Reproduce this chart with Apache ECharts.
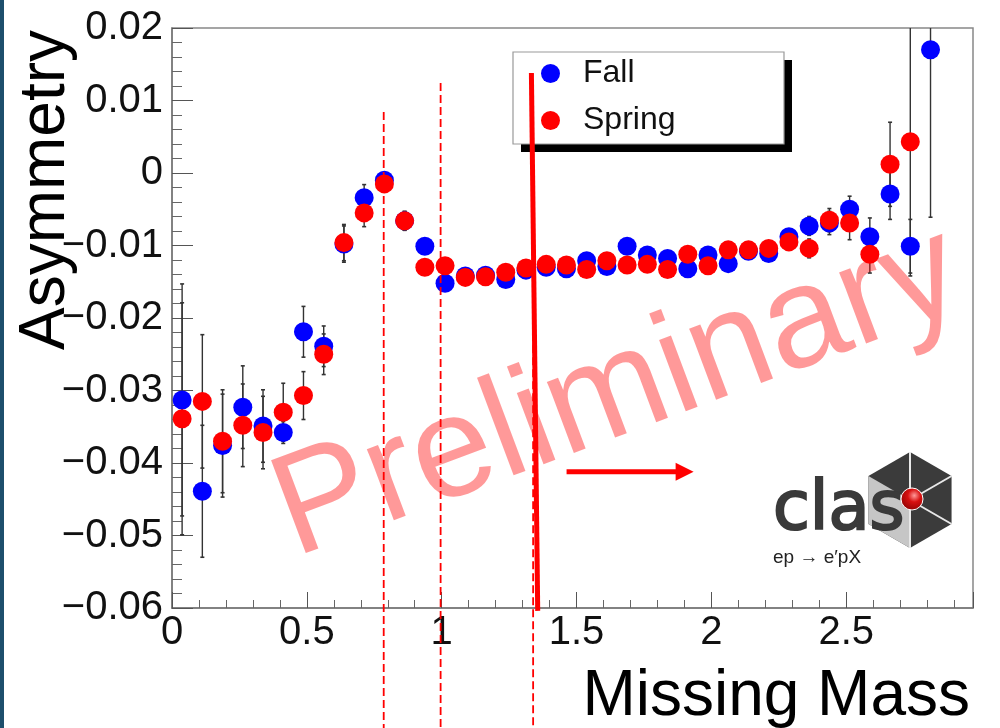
<!DOCTYPE html>
<html><head><meta charset="utf-8">
<script src="https://cdn.jsdelivr.net/npm/echarts@6/dist/echarts.min.js"></script>
<style>html,body{margin:0;padding:0;background:#fff}#c{width:1000px;height:728px}</style>
</head><body><div id="c"></div>
<script>
// ---- data ----
const massBins = [0.0375, 0.1125, 0.1875, 0.2625, 0.3375, 0.4125, 0.4875, 0.5625, 0.6375, 0.7125,
  0.7875, 0.8625, 0.9375, 1.0125, 1.0875, 1.1625, 1.2375, 1.3125, 1.3875, 1.4625,
  1.5375, 1.6125, 1.6875, 1.7625, 1.8375, 1.9125, 1.9875, 2.0625, 2.1375, 2.2125,
  2.2875, 2.3625, 2.4375, 2.5125, 2.5875, 2.6625, 2.7375, 2.8125];
const fallAsym = [-0.0313, -0.0439, -0.0376, -0.0323, -0.0349, -0.0358, -0.0219, -0.0239, -0.0098, -0.0034,
  -0.0010, -0.0066, -0.0101, -0.0152, -0.0142, -0.0141, -0.0147, -0.0134, -0.0130, -0.0132,
  -0.0121, -0.0129, -0.0101, -0.0113, -0.0118, -0.0132, -0.0113, -0.0125, -0.0108, -0.0111,
  -0.0088, -0.0073, -0.0069, -0.0050, -0.0088, -0.0029, -0.0101, 0.0170];
const fallErr = [0.0160, 0.0091, 0.0071, 0.0057, 0.0050, 0.0015, 0.0035, 0.0028, 0.0025, 0.0018,
  0.0010, 0.0013, 0.0009, 0.0008, 0.0008, 0.0008, 0.0008, 0.0008, 0.0008, 0.0008,
  0.0008, 0.0008, 0.0008, 0.0008, 0.0008, 0.0008, 0.0008, 0.0008, 0.0008, 0.0008,
  0.0010, 0.0013, 0.0016, 0.0018, 0.0026, 0.0035, 0.0037, 0.0231];
const springAsym = [-0.0339, -0.0315, -0.0370, -0.0348, -0.0358, -0.0330, -0.0307, -0.0250, -0.0096, -0.0055,
  -0.0015, -0.0066, -0.0130, -0.0128, -0.0144, -0.0143, -0.0137, -0.0131, -0.0126, -0.0127,
  -0.0133, -0.0121, -0.0127, -0.0126, -0.0133, -0.0112, -0.0128, -0.0106, -0.0106, -0.0104,
  -0.0095, -0.0104, -0.0065, -0.0069, -0.0112, 0.0012, 0.0043, null];
const springErr = [0.0160, 0.0092, 0.0071, 0.0057, 0.0050, 0.0040, 0.0033, 0.0028, 0.0025, 0.0019,
  0.0010, 0.0013, 0.0009, 0.0008, 0.0008, 0.0008, 0.0008, 0.0008, 0.0008, 0.0008,
  0.0008, 0.0008, 0.0008, 0.0008, 0.0008, 0.0008, 0.0008, 0.0008, 0.0008, 0.0008,
  0.0010, 0.0013, 0.0016, 0.0023, 0.0026, 0.0058, 0.0185, null];
const xTickLabels = ['0', '0.5', '1', '1.5', '2', '2.5'];
const yTickLabels = ['\u22120.06', '\u22120.05', '\u22120.04', '\u22120.03', '\u22120.02', '\u22120.01', '0', '0.01', '0.02'];
const seriesNames = ['Fall', 'Spring'];
// annotation positions in data units
const dashedCuts = [[0.785, 0.0084], [0.996, 0.0124], [1.339, 0.0110]]; // [x, top y]
const thickCut = [[1.3326, 0.0138], [1.356, -0.0604]];
const arrowCut = [[1.463, -0.0412], [1.934, -0.0412]];

const X_MIN = 0, X_MAX = 2.97, Y_MIN = -0.06, Y_MAX = 0.02, Y_BOTTOM_EDGE = -0.0768;

const chart = echarts.init(document.getElementById('c'), null, {renderer: 'canvas'});
const FONT = '"Liberation Sans", Arial, Helvetica, sans-serif';

function errSeries(vals, errs, z) {
  const data = [];
  massBins.forEach((x, i) => { if (vals[i] != null) data.push([x, vals[i], errs[i]]); });
  return {
    type: 'custom', z: z, silent: true, data: data, encode: {x: 0, y: 1},
    renderItem: function (params, api) {
      const x = api.value(0), y = api.value(1), e = api.value(2);
      const hi = Math.min(y + e, Y_MAX), lo = Math.max(y - e, Y_MIN);
      const p1 = api.coord([x, hi]), p2 = api.coord([x, lo]);
      const ch = [{type: 'line', shape: {x1: p1[0], y1: p1[1], x2: p2[0], y2: p2[1]},
        style: {stroke: '#333', lineWidth: 1.4}}];
      if (y + e <= Y_MAX) ch.push({type: 'line', shape: {x1: p1[0] - 2, y1: p1[1], x2: p1[0] + 2, y2: p1[1]}, style: {stroke: '#333', lineWidth: 1.6}});
      if (y - e >= Y_MIN) ch.push({type: 'line', shape: {x1: p2[0] - 2, y1: p2[1], x2: p2[0] + 2, y2: p2[1]}, style: {stroke: '#333', lineWidth: 1.6}});
      return {type: 'group', children: ch};
    }
  };
}
function pts(vals) {
  const d = [];
  massBins.forEach((x, i) => { if (vals[i] != null) d.push([x, vals[i]]); });
  return d;
}

chart.setOption({
  animation: false,
  backgroundColor: '#fff',
  grid: {left: 172, top: 28, width: 801, height: 580, show: true, borderColor: '#888', borderWidth: 1.5, backgroundColor: 'transparent'},
  legend: {
    data: seriesNames, orient: 'vertical', left: 513, top: 52, icon: 'circle',
    itemWidth: 19, itemHeight: 19, itemGap: 14,
    padding: [5, 105, 8, 28],
    backgroundColor: 'transparent', borderWidth: 0,
    textStyle: {fontSize: 32, fontFamily: FONT, color: '#111', lineHeight: 33, padding: [0, 0, 0, 18]},
    selectedMode: false
  },
  xAxis: {
    type: 'value', min: X_MIN, max: X_MAX, interval: 0.5,
    axisLine: {show: true, onZero: false, lineStyle: {color: '#777', width: 1.5}},
    axisTick: {show: true, inside: true, length: 16, lineStyle: {color: '#555', width: 1}},
    minorTick: {show: true, splitNumber: 5, length: 8, lineStyle: {color: '#666', width: 1}},
    splitLine: {show: false},
    axisLabel: {fontSize: 40, fontFamily: FONT, color: '#111', margin: 5,
      formatter: function (v) { const k = v / 0.5; return Math.abs(k - Math.round(k)) < 1e-6 ? (xTickLabels[Math.round(k)] || '') : ''; }}
  },
  yAxis: {
    type: 'value', min: Y_MIN, max: Y_MAX, interval: 0.01,
    axisLine: {show: true, onZero: false, lineStyle: {color: '#777', width: 1.5}},
    axisTick: {show: true, inside: true, length: 21, lineStyle: {color: '#555', width: 1}},
    minorTick: {show: true, splitNumber: 5, length: 10, lineStyle: {color: '#666', width: 1}},
    splitLine: {show: false},
    axisLabel: {fontSize: 40, fontFamily: FONT, color: '#111', margin: 9,
      formatter: function (v) { return yTickLabels[Math.round((v - Y_MIN) / 0.01)] || ''; }}
  },
  series: [
    errSeries(fallAsym, fallErr, 1),
    errSeries(springAsym, springErr, 1),
    {type: 'scatter', name: 'Fall', data: pts(fallAsym), symbol: 'circle', symbolSize: 19, z: 2,
      itemStyle: {color: '#0000ff', opacity: 1}},
    {type: 'scatter', name: 'Spring', data: pts(springAsym), symbol: 'circle', symbolSize: 19, z: 3,
      itemStyle: {color: '#ff0000', opacity: 1}}
  ]
});

function px(p) { return chart.convertToPixel({gridIndex: 0}, p); }
const g = [];
g.push({type: 'rect', shape: {x: 0, y: 0, width: 4, height: 728}, style: {fill: '#1d4f6c'}, z: 100});
// legend box with solid drop shadow
g.push({type: 'rect', z: 3, shape: {x: 521, y: 60, width: 271, height: 92}, style: {fill: '#000'}});
g.push({type: 'rect', z: 3, shape: {x: 513, y: 52, width: 271, height: 92}, style: {fill: '#fff', stroke: '#999', lineWidth: 1.2}});
// axis titles
g.push({type: 'text', x: 46, y: 190, rotation: Math.PI / 2, z: 100,
  style: {text: 'Asymmetry', font: '64px ' + FONT, fill: '#000', textAlign: 'center', textVerticalAlign: 'middle', align: 'center', verticalAlign: 'middle'}});
g.push({type: 'text', x: 970, y: 697, z: 100,
  style: {text: 'Missing Mass', font: '64px ' + FONT, fill: '#000', textAlign: 'right', textVerticalAlign: 'middle', align: 'right', verticalAlign: 'middle'}});
// dashed cut lines
dashedCuts.forEach(c => {
  const a = px([c[0], c[1]]), b = px([c[0], Y_BOTTOM_EDGE]);
  g.push({type: 'line', z: 110, shape: {x1: a[0], y1: a[1], x2: b[0], y2: b[1]}, style: {stroke: '#ff0000', lineWidth: 1.8, lineDash: [8, 4]}});
});
{
  const a = px(thickCut[0]), b = px(thickCut[1]);
  g.push({type: 'line', z: 111, shape: {x1: a[0], y1: a[1], x2: b[0], y2: b[1]}, style: {stroke: '#ff0000', lineWidth: 5}});
  const s = px(arrowCut[0]), e = px(arrowCut[1]);
  g.push({type: 'line', z: 111, shape: {x1: s[0], y1: s[1], x2: e[0] - 16, y2: e[1]}, style: {stroke: '#ff0000', lineWidth: 5}});
  g.push({type: 'polygon', z: 111, shape: {points: [[e[0] - 18, e[1] - 9], [e[0], e[1]], [e[0] - 18, e[1] + 9]]}, style: {fill: '#ff0000'}});
}
// CLAS logo
const C = [910, 500], R = 48;
const hex = [];
for (let i = 0; i < 6; i++) { const a = -Math.PI / 2 + i * Math.PI / 3; hex.push([C[0] + R * Math.cos(a), C[1] + R * Math.sin(a)]); }
g.push({type: 'polygon', z: 90, shape: {points: hex}, style: {fill: '#3b3b3b'}});
g.push({type: 'polygon', z: 91, shape: {points: [C, hex[3], hex[4], hex[5]]}, style: {fill: '#c6c6c6'}});
[0, 1, 2, 3].forEach(i => g.push({type: 'line', z: 92, shape: {x1: C[0], y1: C[1], x2: hex[i][0], y2: hex[i][1]}, style: {stroke: '#e8e8e8', lineWidth: 2}}));
g.push({type: 'text', x: 773, y: 512, z: 93,
  style: {text: 'clas', font: '67px "DejaVu Sans", sans-serif', fill: '#3a3a3a', stroke: '#3a3a3a', lineWidth: 2.2, textAlign: 'left', textVerticalAlign: 'middle', align: 'left', verticalAlign: 'middle'}});
g.push({type: 'circle', z: 94, shape: {cx: 912, cy: 499, r: 11},
  style: {fill: new echarts.graphic.RadialGradient(0.6, 0.35, 0.8, [{offset: 0, color: '#ff9a9a'}, {offset: 0.35, color: '#d81010'}, {offset: 1, color: '#7a0000'}]), stroke: '#fff', lineWidth: 1}});
g.push({type: 'text', x: 773, y: 558, z: 93,
  style: {text: 'ep \u2192 e\u2032pX', font: '19px ' + FONT, fill: '#222', textAlign: 'left', textVerticalAlign: 'middle', align: 'left', verticalAlign: 'middle'}});
// watermark
g.push({type: 'text', x: 618, y: 394, rotation: 20.5 * Math.PI / 180, z: 120,
  style: {text: 'Preliminary', font: '144px ' + FONT, fill: 'rgba(255,0,0,0.4)', textAlign: 'center', textVerticalAlign: 'middle', align: 'center', verticalAlign: 'middle'}});
chart.setOption({graphic: g});
</script></body></html>
